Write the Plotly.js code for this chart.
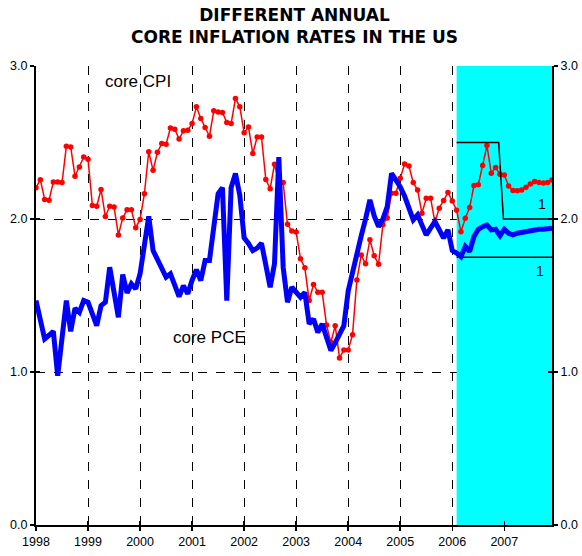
<!DOCTYPE html>
<html>
<head>
<meta charset="utf-8">
<script src="https://cdn.plot.ly/plotly-3.0.1.min.js"></script>
<style>
  html, body { margin: 0; padding: 0; background: #ffffff; }
  #chart { width: 582px; height: 556px; }
</style>
</head>
<body>
<div id="chart"></div>
<script>
// Year tick labels (one tick per January; x axis is month index from Jan 1998)
const yearLabels = ['1998','1999','2000','2001','2002','2003','2004','2005','2006','2007'];
const yearTickMonths = [0, 12, 24, 36, 48, 60, 72, 84, 96, 108];
const yTickVals = [0, 1, 2, 3];
const yTickText = ['0.0', '1.0', '2.0', '3.0'];

// Core CPI, annual rate, monthly Jan 1998 - Dec 2007
const coreCPI = [
  2.205, 2.257, 2.128, 2.122, 2.242, 2.242, 2.238, 2.475, 2.471, 2.279, 2.340, 2.405,
  2.390, 2.089, 2.083, 2.193, 2.016, 2.083, 2.078, 1.896, 2.006, 2.061, 2.061, 1.943,
  1.997, 2.165, 2.440, 2.318, 2.436, 2.493, 2.489, 2.595, 2.587, 2.523, 2.576, 2.580,
  2.624, 2.733, 2.657, 2.598, 2.541, 2.707, 2.700, 2.696, 2.631, 2.624, 2.788, 2.733,
  2.563, 2.602, 2.428, 2.536, 2.536, 2.258, 2.198, 2.358, 2.242, 2.238, 1.965, 1.921,
  1.915, 1.740, 1.681, 1.467, 1.572, 1.521, 1.521, 1.308, 1.194, 1.303, 1.092, 1.144,
  1.144, 1.244, 1.602, 1.764, 1.707, 1.864, 1.759, 1.705, 1.963, 2.007, 2.168, 2.168,
  2.266, 2.360, 2.347, 2.238, 2.190, 2.038, 2.136, 2.136, 1.979, 2.071, 2.121, 2.173,
  2.118, 2.058, 1.916, 2.005, 2.075, 2.219, 2.224, 2.349, 2.480, 2.299, 2.336, 2.292,
  2.287, 2.216, 2.186, 2.184, 2.190, 2.208, 2.229, 2.245, 2.238, 2.235, 2.238, 2.255
];

// Core PCE, annual rate, monthly Jan 1998 - Dec 2007
const corePCE = [
  1.467, 1.320, 1.216, 1.240, 1.266, 0.976, 1.220, 1.467, 1.266, 1.417, 1.390, 1.467,
  1.456, 1.380, 1.303, 1.434, 1.456, 1.685, 1.520, 1.358, 1.637, 1.517, 1.576, 1.543,
  1.642, 1.830, 2.017, 1.794, 1.730, 1.675, 1.620, 1.642, 1.570, 1.493, 1.565, 1.511,
  1.600, 1.668, 1.598, 1.729, 1.729, 1.950, 2.166, 2.205, 1.467, 2.205, 2.297, 2.155,
  1.877, 1.840, 1.794, 1.810, 1.842, 1.700, 1.554, 1.707, 2.405, 1.685, 1.456, 1.554,
  1.520, 1.489, 1.521, 1.314, 1.347, 1.259, 1.314, 1.230, 1.140, 1.190, 1.249, 1.303,
  1.530, 1.660, 1.780, 1.890, 2.000, 2.125, 2.020, 1.950, 2.000, 2.081, 2.299, 2.260,
  2.210, 2.150, 2.081, 1.994, 2.027, 1.960, 1.896, 1.940, 1.983, 1.930, 1.875, 1.929,
  1.794, 1.777, 1.754, 1.820, 1.787, 1.885, 1.933, 1.950, 1.961, 1.929, 1.933, 1.890,
  1.933, 1.907, 1.896, 1.907, 1.912, 1.918, 1.925, 1.933, 1.933, 1.933, 1.935, 1.940
];

// Forecast bands (month index, value)
const upperBandX = [97, 106.7, 107.8, 119];
const upperBandY = [2.5, 2.5, 2.0, 2.0];
const lowerBandX = [97, 119];
const lowerBandY = [1.75, 1.75];

// Shaded forecast period (month index)
const shadeStart = 97;
const shadeEnd = 119;

const months = coreCPI.map((_, i) => i);

const traces = [
  { x: upperBandX, y: upperBandY, type: 'scatter', mode: 'lines',
    xaxis: 'x2', yaxis: 'y2',
    line: { color: '#000000', width: 1.5 }, hoverinfo: 'skip', showlegend: false },
  { x: lowerBandX, y: lowerBandY, type: 'scatter', mode: 'lines',
    xaxis: 'x', yaxis: 'y3',
    line: { color: '#000000', width: 1.5 }, hoverinfo: 'skip', showlegend: false },
  { x: months, y: corePCE, type: 'scatter', mode: 'lines', name: 'core PCE',
    xaxis: 'x', yaxis: 'y4',
    line: { color: '#0000ff', width: 5 }, showlegend: false },
  { x: months, y: coreCPI, type: 'scatter', mode: 'lines+markers', name: 'core CPI',
    xaxis: 'x', yaxis: 'y',
    line: { color: '#ff0000', width: 1.5 },
    marker: { color: '#ff0000', size: 5.5 }, showlegend: false }
];

const tickFont = { family: 'Liberation Sans, Arial, sans-serif', size: 12.5, color: '#000000' };

const baseY = {
  range: [0, 3],
  tickmode: 'array', tickvals: yTickVals, ticktext: yTickText,
  zeroline: false, fixedrange: true,
  tickwidth: 1.5, tickcolor: '#000000', ticklen: 4, tickfont: tickFont
};

const layout = {
  width: 582,
  height: 556,
  margin: { l: 36, r: 30, t: 66, b: 31 },
  paper_bgcolor: '#ffffff',
  plot_bgcolor: '#ffffff',
  showlegend: false,
  xaxis: {
    range: [0, 119],
    tickmode: 'array', tickvals: yearTickMonths, ticktext: yearLabels,
    showgrid: true, gridcolor: '#000000', gridwidth: 1, griddash: 'dash',
    showline: true, linecolor: '#000000', linewidth: 2,
    ticks: 'outside', ticklen: 4, tickwidth: 1.5, tickcolor: '#000000',
    zeroline: false, tickfont: tickFont, fixedrange: true
  },
  xaxis2: {
    overlaying: 'x', anchor: 'y', side: 'bottom',
    range: [0, 119],
    tickmode: 'array', tickvals: yearTickMonths, ticktext: yearLabels,
    showticklabels: false, showgrid: false, showline: false, zeroline: false,
    ticks: 'inside', ticklen: 4, tickwidth: 1.5, tickcolor: '#000000', fixedrange: true
  },
  yaxis: Object.assign({}, baseY, {
    showgrid: true, gridcolor: '#000000', gridwidth: 1, griddash: 'dash',
    showline: true, linecolor: '#000000', linewidth: 2,
    ticks: 'outside'
  }),
  yaxis2: Object.assign({}, baseY, {
    overlaying: 'y', side: 'right', anchor: 'x',
    showgrid: false, showline: true, linecolor: '#000000', linewidth: 2,
    ticks: 'outside', showticklabels: true
  }),
  yaxis3: Object.assign({}, baseY, {
    overlaying: 'y', side: 'left', anchor: 'x',
    showgrid: false, showline: false, showticklabels: false,
    ticks: 'inside'
  }),
  yaxis4: Object.assign({}, baseY, {
    overlaying: 'y', side: 'right', anchor: 'x',
    showgrid: false, showline: false, showticklabels: false,
    ticks: 'inside'
  }),
  shapes: [
    { type: 'rect', xref: 'x', yref: 'y', x0: shadeStart, x1: shadeEnd, y0: 0, y1: 3,
      fillcolor: '#00ffff', line: { width: 0 }, layer: 'between' }
  ],
  annotations: [
    { x: 0.5, y: 1.087, xref: 'paper', yref: 'paper', xanchor: 'center', yanchor: 'middle',
      text: '<b>DIFFERENT ANNUAL<br>CORE INFLATION RATES IN THE US</b>', showarrow: false,
      font: { family: 'DejaVu Sans, Verdana, sans-serif', size: 17, color: '#000000' } },
    { x: 23.6, y: 2.90, xref: 'x', yref: 'y', text: 'core CPI', showarrow: false,
      font: { family: 'Liberation Sans, Arial, sans-serif', size: 17, color: '#000000' } },
    { x: 40.0, y: 1.223, xref: 'x', yref: 'y', text: 'core PCE', showarrow: false,
      font: { family: 'Liberation Sans, Arial, sans-serif', size: 17, color: '#000000' } },
    { x: 116.7, y: 2.10, xref: 'x', yref: 'y', text: '1', showarrow: false,
      font: { family: 'Liberation Sans, Arial, sans-serif', size: 14, color: '#000000' } },
    { x: 116.3, y: 1.657, xref: 'x', yref: 'y', text: '1', showarrow: false,
      font: { family: 'Liberation Sans, Arial, sans-serif', size: 14, color: '#000000' } }
  ]
};

Plotly.newPlot('chart', traces, layout, { displayModeBar: false, staticPlot: true });
</script>
</body>
</html>
